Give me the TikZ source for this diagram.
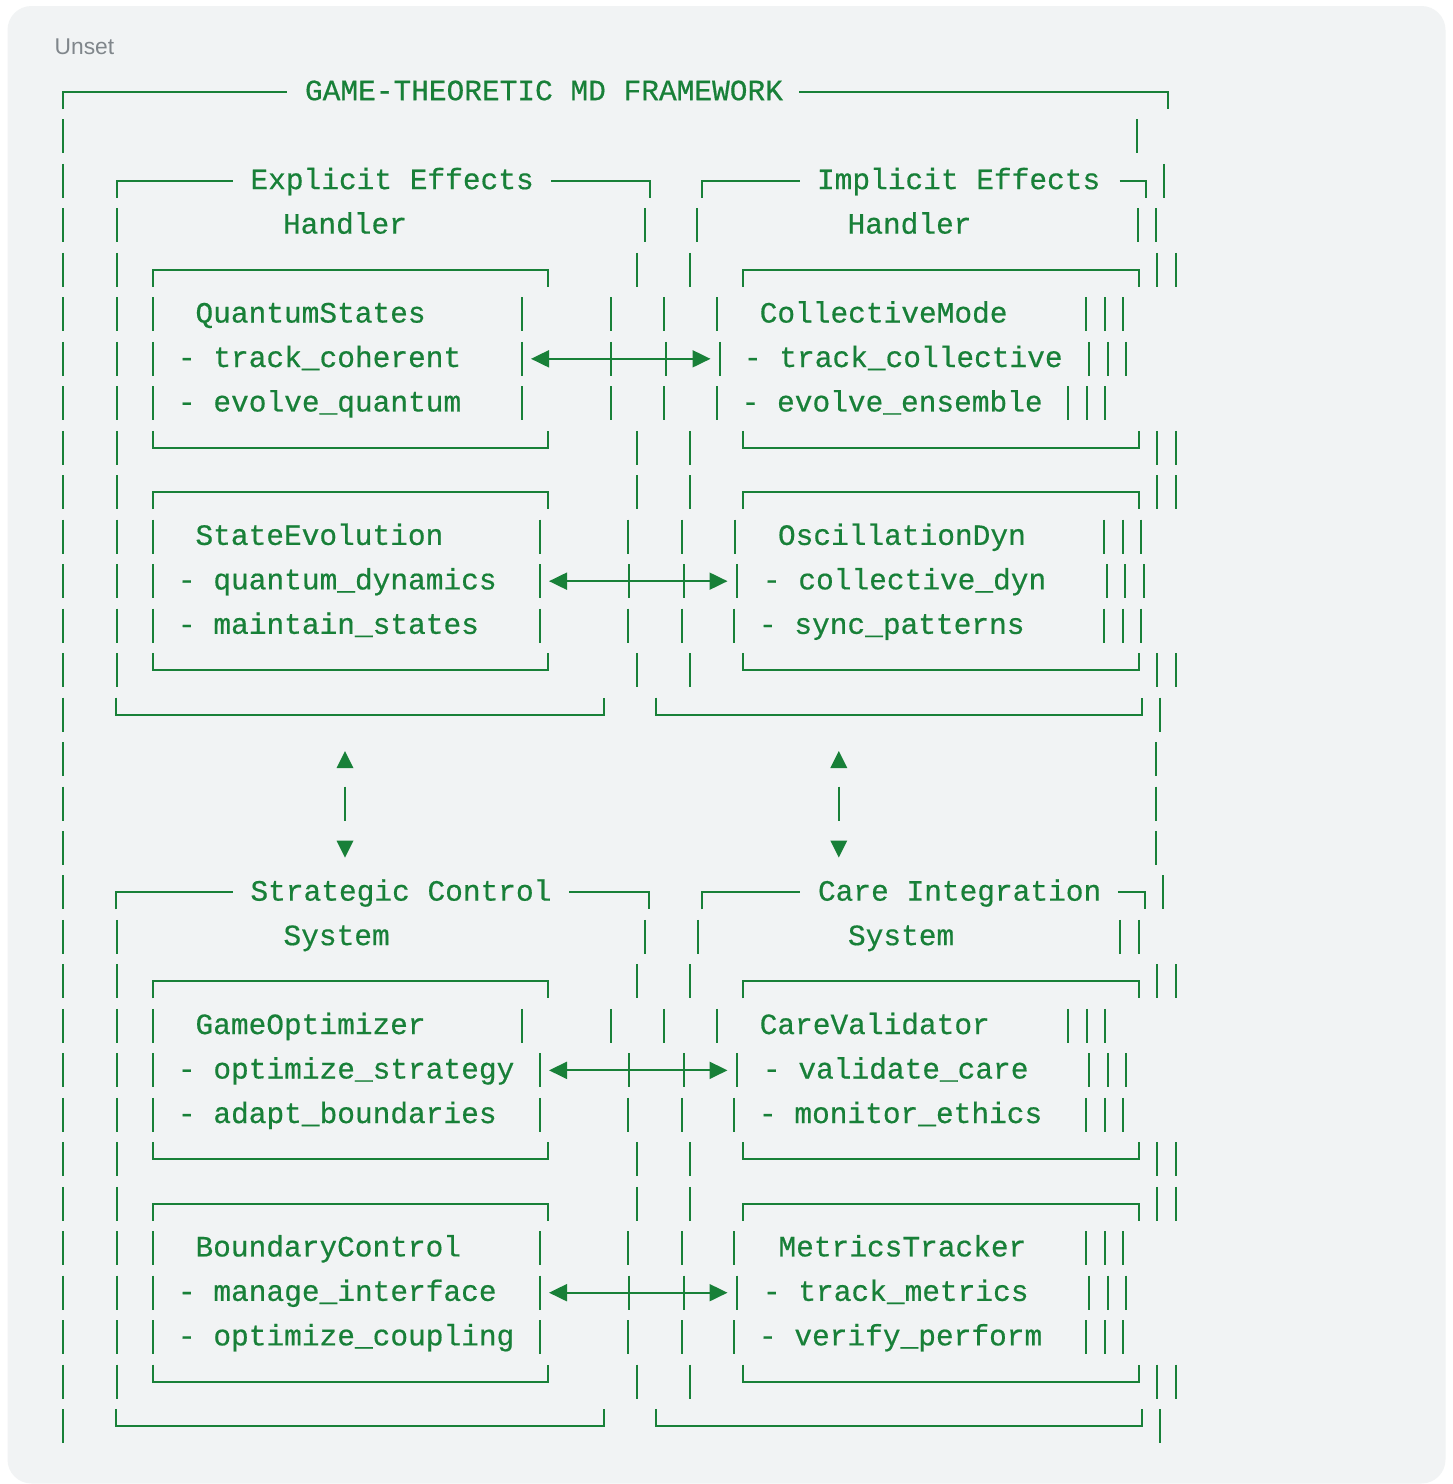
\documentclass[tikz,border=0pt]{standalone}
\usepackage{fontspec}
\setmonofont{Liberation Mono}[FakeBold=0.5]
\setsansfont{Liberation Sans}
\usetikzlibrary{arrows.meta}
\definecolor{codegreen}{RGB}{24,128,56}
\definecolor{panelbg}{RGB}{241,243,244}
\definecolor{labelgray}{RGB}{128,134,139}
\newcommand\barsrow[2]{\foreach \bx in {#2}{\draw[ln] (\bx,{ry(#1)-17}) -- (\bx,{ry(#1)+17});}}
\newcommand\toprow[3]{\draw[ln] (#2,{ry(#1)+17}) -- (#2,{ry(#1)}) -- (#3,{ry(#1)}) -- (#3,{ry(#1)+17});}
\newcommand\botrow[3]{\draw[ln] (#2,{ry(#1)-17}) -- (#2,{ry(#1)}) -- (#3,{ry(#1)}) -- (#3,{ry(#1)-17});}
\begin{document}
\begin{tikzpicture}[x=1pt,y=-1pt,
  declare function={ry(\k)=92+44.47*\k;},
  ln/.style={draw=codegreen,line width=2pt},
  txt/.style={anchor=base west,inner sep=0pt,outer sep=0pt,text=codegreen,font=\ttfamily\fontsize{29.5}{30}\selectfont},
  harrow/.style={ln,{Triangle[length=18pt,width=17pt]}-{Triangle[length=18pt,width=17pt]}},
  tri/.style={fill=codegreen,draw=none}]
\useasboundingbox (0,0) rectangle (1453,1484);
\fill[white] (0,0) rectangle (1453,1484);
\fill[panelbg,rounded corners=24pt] (7.5,6) rectangle (1445.5,1483.5);
\node[font=\sffamily\fontsize{22.8}{24}\selectfont,text=labelgray,anchor=base west,inner sep=0pt] (unset) at (54.5,54) {Unset};

% ---------- row 0 : outer title ----------
\draw[ln] (63.3,{ry(0)+17}) -- (63.3,{ry(0)}) -- (287,{ry(0)});
\node[txt] (title) at (305,{ry(0)+8.2}) {GAME-THEORETIC MD FRAMEWORK};
\draw[ln] (799,{ry(0)}) -- (1168.3,{ry(0)}) -- (1168.3,{ry(0)+17});
\barsrow{1}{63.3,1137}

% ---------- row 2-3 : handler titles ----------
\barsrow{2}{63.3,1163.8}
\draw[ln] (116.7,{ry(2)+17}) -- (116.7,{ry(2)}) -- (232.7,{ry(2)});
\node[txt] (exA) at (250.5,{ry(2)+8.2}) {Explicit Effects};
\draw[ln] (551,{ry(2)}) -- (649.6,{ry(2)}) -- (649.6,{ry(2)+17});
\draw[ln] (702,{ry(2)+17}) -- (702,{ry(2)}) -- (800,{ry(2)});
\node[txt] (imA) at (817,{ry(2)+8.2}) {Implicit Effects};
\draw[ln] (1119.6,{ry(2)}) -- (1146,{ry(2)}) -- (1146,{ry(2)+17});
\barsrow{3}{63.3,116.8,645,697.3,1137.5,1156.3}
\node[txt] (exB) at (283,{ry(3)+8.2}) {Handler};
\node[txt] (imB) at (847.6,{ry(3)+8.2}) {Handler};

% ---------- rows 4-8 : first inner boxes ----------
\barsrow{4}{63.3,116.8,637,690,1157.3,1176}
\toprow{4}{152.5}{548}
\toprow{4}{742.5}{1139.3}
\barsrow{5}{63.3,116.8,152.5,522,610.5,663.7,716.8,1086,1104.7,1123.3}
\node[txt] (qs) at (195.5,{ry(5)+8.2}) {QuantumStates};
\node[txt] (cm) at (759.7,{ry(5)+8.2}) {CollectiveMode};
\barsrow{6}{63.3,116.8,152.5,522,611.4,666,719.5,1089.3,1107.7,1126}
\node[txt] (qs1) at (178,{ry(6)+8.2}) {- track\_coherent};
\node[txt] (cm1) at (744,{ry(6)+8.2}) {- track\_collective};
\coordinate (a1l) at (531,{ry(6)});
\coordinate (a1r) at (710.5,{ry(6)});
\draw[harrow] (a1l) -- (a1r);
\barsrow{7}{63.3,116.8,152.5,522,610.5,663.7,716.8,1068.3,1086.7,1105}
\node[txt] (qs2) at (178,{ry(7)+8.2}) {- evolve\_quantum};
\node[txt] (cm2) at (741.7,{ry(7)+8.2}) {- evolve\_ensemble};
\barsrow{8}{63.3,116.8,637,690,1157.3,1176}
\botrow{8}{152.5}{548}
\botrow{8}{742.5}{1139.3}

% ---------- rows 9-13 : second inner boxes ----------
\barsrow{9}{63.3,116.8,637,690,1157.3,1176}
\toprow{9}{152.5}{548}
\toprow{9}{742.5}{1139.3}
\barsrow{10}{63.3,116.8,152.5,540,628.4,681.5,734.6,1104,1122.7,1141}
\node[txt] (se) at (195.5,{ry(10)+8.2}) {StateEvolution};
\node[txt] (od) at (778,{ry(10)+8.2}) {OscillationDyn};
\barsrow{11}{63.3,116.8,152.5,540,629,683.8,737.3,1106.7,1125.3,1144}
\node[txt] (se1) at (178,{ry(11)+8.2}) {- quantum\_dynamics};
\node[txt] (od1) at (763,{ry(11)+8.2}) {- collective\_dyn};
\coordinate (a2l) at (549,{ry(11)});
\coordinate (a2r) at (727.5,{ry(11)});
\draw[harrow] (a2l) -- (a2r);
\barsrow{12}{63.3,116.8,152.5,540,628.4,681.5,734,1104,1122.7,1141}
\node[txt] (se2) at (178,{ry(12)+8.2}) {- maintain\_states};
\node[txt] (od2) at (759,{ry(12)+8.2}) {- sync\_patterns};
\barsrow{13}{63.3,116.8,637,690,1157.3,1176}
\botrow{13}{152.5}{548}
\botrow{13}{742.5}{1139.3}

% ---------- row 14 : handler bottoms ----------
\barsrow{14}{63.3,1160.3}
\botrow{14}{116}{603.6}
\botrow{14}{655.6}{1142.4}

% ---------- rows 15-17 : vertical links ----------
\barsrow{15}{63.3,1155.8}
\barsrow{16}{63.3,345,838.8,1155.8}
\barsrow{17}{63.3,1155.8}
\fill[tri] (345,751) -- (353.5,768) -- (336.5,768) -- cycle;
\fill[tri] (838.8,751) -- (847.3,768) -- (830.3,768) -- cycle;
\fill[tri] (336.5,840.5) -- (353.5,840.5) -- (345,857.5) -- cycle;
\fill[tri] (830.3,840.5) -- (847.3,840.5) -- (838.8,857.5) -- cycle;

% ---------- rows 18-19 : lower group titles ----------
\barsrow{18}{63.3,1163.4}
\draw[ln] (116,{ry(18)+17}) -- (116,{ry(18)}) -- (233,{ry(18)});
\node[txt] (scA) at (250.5,{ry(18)+8.2}) {Strategic Control};
\draw[ln] (569,{ry(18)}) -- (648.7,{ry(18)}) -- (648.7,{ry(18)+17});
\draw[ln] (701.8,{ry(18)+17}) -- (701.8,{ry(18)}) -- (799.6,{ry(18)});
\node[txt] (ciA) at (818,{ry(18)+8.2}) {Care Integration};
\draw[ln] (1117.9,{ry(18)}) -- (1144.6,{ry(18)}) -- (1144.6,{ry(18)+17});
\barsrow{19}{63.3,116.8,644.6,698,1120,1139.3}
\node[txt] (scB) at (283.5,{ry(19)+8.2}) {System};
\node[txt] (ciB) at (848,{ry(19)+8.2}) {System};

% ---------- rows 20-24 ----------
\barsrow{20}{63.3,116.8,637,690,1157.3,1176}
\toprow{20}{152.5}{548}
\toprow{20}{742.5}{1139.3}
\barsrow{21}{63.3,116.8,152.5,522,610.5,663.7,716.8,1068.3,1086.7,1105}
\node[txt] (go) at (195.5,{ry(21)+8.2}) {GameOptimizer};
\node[txt] (cv) at (759.7,{ry(21)+8.2}) {CareValidator};
\barsrow{22}{63.3,116.8,152.5,540,629,683.8,737.3,1089.3,1107.7,1126}
\node[txt] (go1) at (178,{ry(22)+8.2}) {- optimize\_strategy};
\node[txt] (cv1) at (763,{ry(22)+8.2}) {- validate\_care};
\coordinate (a3l) at (549,{ry(22)});
\coordinate (a3r) at (727.5,{ry(22)});
\draw[harrow] (a3l) -- (a3r);
\barsrow{23}{63.3,116.8,152.5,540,628.4,681.5,734,1086,1104.7,1123.3}
\node[txt] (go2) at (178,{ry(23)+8.2}) {- adapt\_boundaries};
\node[txt] (cv2) at (759,{ry(23)+8.2}) {- monitor\_ethics};
\barsrow{24}{63.3,116.8,637,690,1157.3,1176}
\botrow{24}{152.5}{548}
\botrow{24}{742.5}{1139.3}

% ---------- rows 25-29 ----------
\barsrow{25}{63.3,116.8,637,690,1157.3,1176}
\toprow{25}{152.5}{548}
\toprow{25}{742.5}{1139.3}
\barsrow{26}{63.3,116.8,152.5,540,628.4,681.5,734,1086,1104.7,1123.3}
\node[txt] (bc) at (195.5,{ry(26)+8.2}) {BoundaryControl};
\node[txt] (mt) at (778.5,{ry(26)+8.2}) {MetricsTracker};
\barsrow{27}{63.3,116.8,152.5,540,629,683.8,737.3,1089.3,1107.7,1126}
\node[txt] (bc1) at (178,{ry(27)+8.2}) {- manage\_interface};
\node[txt] (mt1) at (763,{ry(27)+8.2}) {- track\_metrics};
\coordinate (a4l) at (549,{ry(27)});
\coordinate (a4r) at (727.5,{ry(27)});
\draw[harrow] (a4l) -- (a4r);
\barsrow{28}{63.3,116.8,152.5,540,628.4,681.5,734,1086,1104.7,1123.3}
\node[txt] (bc2) at (178,{ry(28)+8.2}) {- optimize\_coupling};
\node[txt] (mt2) at (759,{ry(28)+8.2}) {- verify\_perform};
\barsrow{29}{63.3,116.8,637,690,1157.3,1176}
\botrow{29}{152.5}{548}
\botrow{29}{742.5}{1139.3}

% ---------- row 30 ----------
\barsrow{30}{63.3,1160}
\botrow{30}{116}{603.6}
\botrow{30}{655.6}{1142.2}
\end{tikzpicture}
\end{document}
